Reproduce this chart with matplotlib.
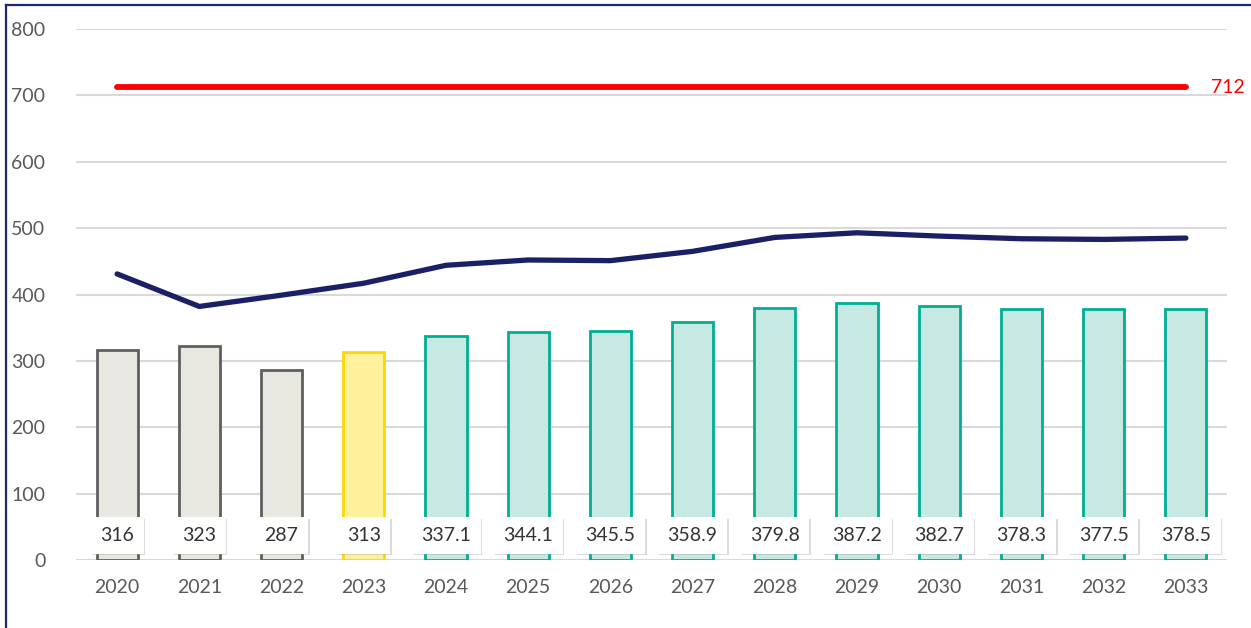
import matplotlib
matplotlib.use("Agg")
import matplotlib.pyplot as plt
from matplotlib.lines import Line2D
import matplotlib.patheffects as pe

years = ["2020", "2021", "2022", "2023", "2024", "2025", "2026", "2027",
         "2028", "2029", "2030", "2031", "2032", "2033"]
bar_values = [316, 323, 287, 313, 337.1, 344.1, 345.5, 358.9, 379.8, 387.2,
              382.7, 378.3, 377.5, 378.5]
bar_labels = ["316", "323", "287", "313", "337.1", "344.1", "345.5", "358.9",
              "379.8", "387.2", "382.7", "378.3", "377.5", "378.5"]
line_values = [431, 382, 399, 417, 444, 452, 451, 465, 486, 493, 488, 484, 483, 485]
target_value = 712
yticks = [0, 100, 200, 300, 400, 500, 600, 700, 800]

plt.rcParams['font.family'] = ['Lato', 'DejaVu Sans']

fig = plt.figure(figsize=(12.51, 6.28), dpi=100)
ax = fig.add_axes([76/1251, 68/628, (1227-76)/1251, (560-29)/628])

x = list(range(len(years)))
faces, edges = [], []
for i in x:
    if i < 3:
        faces.append('#E8E8E1'); edges.append('#5F5F5F')
    elif i == 3:
        faces.append('#FFF09B'); edges.append('#FFD700')
    else:
        faces.append('#C6E9E3'); edges.append('#00AE96')

ax.bar(x, bar_values, width=0.5, color=faces, edgecolor=edges, linewidth=2.0, zorder=3)
ax.plot(x, line_values, color='#1A1F66', linewidth=3.8, solid_capstyle='round', zorder=4)
ax.plot([x[0], x[-1]], [target_value, target_value], color='#FF0000', linewidth=4.2,
        solid_capstyle='round', zorder=4)
ax.text(x[-1] + 0.3, target_value, str(target_value), color='#FF0000', fontsize=14,
        va='center', ha='left')

for i in x:
    t = ax.text(i, 37, bar_labels[i], ha='center', va='center', fontsize=14,
                color='#333333', zorder=6,
                bbox=dict(boxstyle='square,pad=0.5', facecolor='white', edgecolor='none'))
    t.get_bbox_patch().set_path_effects([
        pe.SimplePatchShadow(offset=(1, -1), shadow_rgbFace='#999999', alpha=0.35),
        pe.Normal()])

ax.set_xlim(-0.5, len(years) - 0.5)
ax.set_ylim(0, 800)
ax.set_yticks(yticks)
ax.set_xticks(x)
ax.set_xticklabels(years)
ax.grid(axis='y', color='#D9D9D9', linewidth=1.5, zorder=0)
ax.set_axisbelow(True)
for s in ax.spines.values():
    s.set_visible(False)
ax.tick_params(axis='both', length=0, labelsize=14, labelcolor='#595959')
ax.tick_params(axis='x', pad=14)
ax.tick_params(axis='y', pad=22)

fig.add_artist(Line2D([5.5/1251, 5.5/1251], [0, 1 - 5/628], transform=fig.transFigure,
                      color='#1F2670', linewidth=1.6))
fig.add_artist(Line2D([5.5/1251, 1], [1 - 5/628, 1 - 5/628], transform=fig.transFigure,
                      color='#1F2670', linewidth=1.6))

fig.savefig('out.png', dpi=100)
